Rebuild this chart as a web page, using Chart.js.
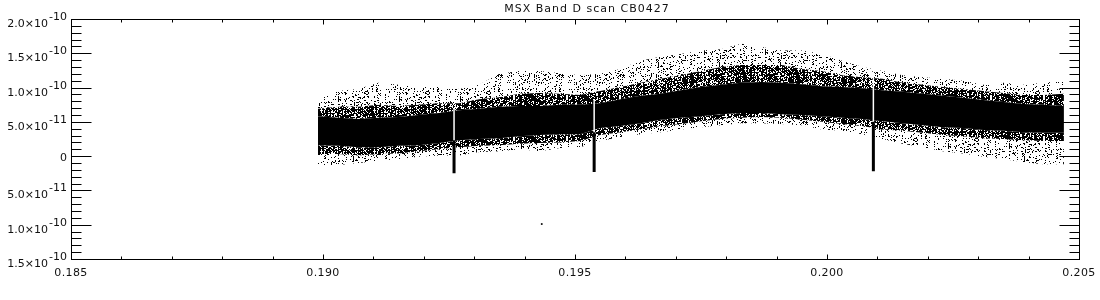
<!DOCTYPE html>
<html lang="en">
<head>
<meta charset="UTF-8">
<title>MSX Band D scan CB0427</title>
<script src="https://cdn.jsdelivr.net/npm/chart.js@4/dist/chart.umd.min.js"></script>
<style>
    html, body { margin: 0; padding: 0; background: #fff; }
    #wrap { position: relative; width: 1100px; height: 300px; }
</style>
</head>
<body>
<div id="wrap"><canvas id="scan"></canvas></div>
<script>
const UNIT = 1e-11;

// sample positions along the scan
const xs = [0.1899, 0.1903, 0.1907, 0.1911, 0.1915, 0.1919, 0.1923, 0.1927, 0.1931, 0.1935,
            0.1939, 0.1943, 0.1947, 0.1951, 0.1955, 0.1959, 0.1963, 0.1967, 0.1971, 0.1975,
            0.1979, 0.1983, 0.1987, 0.1991, 0.1995, 0.1999, 0.2003, 0.2007, 0.2011, 0.2015,
            0.2019, 0.2023, 0.2027, 0.2031, 0.2035, 0.2039, 0.2043, 0.2047];

// envelope of the scattered points: sparse outer edge, dense halo, solid core
const outerTop = [8.3, 9.5, 9.8, 10.7, 10.4, 10.1, 10.1, 9.8, 10.4, 12.0,
                  12.4, 12.4, 12.1, 11.8, 12.0, 12.7, 13.9, 14.5, 14.9, 15.4,
                  15.6, 16.4, 15.9, 15.4, 15.4, 14.9, 13.9, 13.0, 12.4, 11.8,
                  11.5, 11.3, 11.0, 10.4, 10.7, 10.4, 10.7, 11.0];
const haloTop = [6.9, 7.2, 7.2, 7.5, 7.3, 7.5, 7.7, 7.7, 8.3, 8.6,
                 9.1, 9.2, 9.1, 8.9, 9.5, 10.1, 10.7, 11.3, 11.8, 12.4,
                 13.0, 13.3, 13.3, 13.3, 12.7, 12.4, 11.8, 11.5, 11.3, 10.7,
                 10.4, 10.1, 9.8, 9.5, 9.2, 8.9, 8.9, 9.1];
const coreTop = [5.8, 5.6, 5.4, 5.6, 5.7, 6.0, 6.3, 6.7, 6.9, 7.2,
                 7.3, 7.3, 7.5, 7.5, 7.7, 8.3, 8.8, 9.1, 9.6, 10.1,
                 10.4, 10.7, 10.8, 10.7, 10.5, 10.2, 10.1, 9.9, 9.6, 9.4,
                 9.1, 8.8, 8.5, 8.2, 7.9, 7.6, 7.5, 7.3];
const coreBottom = [1.6, 1.5, 1.3, 1.3, 1.5, 1.6, 1.9, 2.3, 2.5, 2.6,
                    2.9, 3.1, 3.2, 3.2, 4.1, 4.4, 4.8, 5.3, 5.6, 5.8,
                    6.1, 6.3, 6.3, 6.1, 6.0, 5.8, 5.6, 5.4, 5.1, 4.8,
                    4.5, 4.2, 4.1, 3.8, 3.7, 3.5, 3.4, 3.4];
const haloBottom = [0.3, 0.3, 0.1, 0.3, 0.4, 0.7, 1.0, 1.3, 1.5, 1.6,
                    1.8, 1.9, 2.0, 2.2, 3.1, 3.5, 3.9, 4.4, 4.7, 5.1,
                    5.4, 5.6, 5.7, 5.6, 5.3, 5.0, 4.7, 4.4, 3.9, 3.7,
                    3.4, 3.1, 2.9, 2.6, 2.5, 2.3, 2.2, 2.2];
const outerBottom = [-1.3, -1.3, -1.0, -0.7, -0.4, -0.1, 0.1, 0.1, 0.6, 0.7,
                     1.0, 0.7, 1.2, 1.3, 2.2, 2.8, 3.2, 3.5, 3.9, 4.2,
                     4.5, 4.8, 4.8, 4.7, 4.5, 3.9, 3.7, 3.2, 2.5, 1.8,
                     1.3, 0.7, 0.4, -0.1, -0.4, -0.9, -1.2, -1.2];

// the three dropouts: a gap in the data with a negative spike under it
const dipX = [0.19260, 0.19538, 0.20092];
const dipTop = [2.3, 3.5, 5.0];
const dipBottom = [-2.5, -2.3, -2.2];
const gapTop = [6.9, 8.3, 12.7];

// lone point far below the band
const strayX = [0.19434];
const strayY = [-9.9];

// axes
const xTicks = [0.185, 0.190, 0.195, 0.200, 0.205];
const xTickLabels = ['0.185', '0.190', '0.195', '0.200', '0.205'];
const yTicks = [2.0e-10, 1.5e-10, 1.0e-10, 5.0e-11, 0, -5.0e-11, -1.0e-10, -1.5e-10];
const yTickMant = ['2.0', '1.5', '1.0', '5.0', '0', '5.0', '1.0', '1.5'];
const yTickExp = ['-10', '-10', '-10', '-11', '', '-11', '-10', '-10'];
const title = 'MSX Band D scan CB0427';

// fixed integer hash, only used to lay out the speckle texture
function hash(a, b, s) {
    let h = Math.imul(a, 374761393) ^ Math.imul(b, 668265263) ^ Math.imul(s, 2246822519);
    h = Math.imul(h ^ (h >>> 13), 1274126177);
    h ^= h >>> 16;
    return (h >>> 0) / 4294967296;
}

// speckle pattern; columns get their own weight so dots line up in streaks
function speckle(w, h, density, streak, seed) {
    const c = document.createElement('canvas');
    c.width = w;
    c.height = h;
    const g = c.getContext('2d');
    g.fillStyle = '#000';
    for (let x = 0; x < w; x++) {
        const col = density * (1 - streak + 2 * streak * hash(x, 7, seed));
        for (let y = 0; y < h; y++) {
            if (hash(x, y, seed + 1) < col) g.fillRect(x, y, 1, 1);
        }
    }
    return g.createPattern(c, 'repeat');
}

const dense = speckle(53, 41, 0.72, 0.3, 3);
const sparse = speckle(61, 47, 0.14, 0.95, 11);

function band(label, vals, fill, bg) {
    return {
        label: label,
        data: xs.map((x, i) => ({ x: x, y: vals[i] * UNIT })),
        showLine: true,
        pointRadius: 0,
        borderWidth: 0,
        borderColor: 'rgba(0,0,0,0)',
        backgroundColor: bg,
        fill: fill,
        order: 10
    };
}

const datasets = [
    band('outer top', outerTop, false, 'rgba(0,0,0,0)'),
    band('halo top', haloTop, '-1', sparse),
    band('core top', coreTop, '-1', dense),
    band('core bottom', coreBottom, '-1', '#000'),
    band('halo bottom', haloBottom, '-1', dense),
    band('outer bottom', outerBottom, '-1', sparse)
];

dipX.forEach((x, i) => {
    datasets.push({
        label: 'spike ' + (i + 1),
        data: [{ x: x, y: dipTop[i] * UNIT }, { x: x, y: dipBottom[i] * UNIT }],
        showLine: true, pointRadius: 0, borderColor: '#000', borderWidth: 3,
        fill: false, order: 2
    });
    datasets.push({
        label: 'gap ' + (i + 1),
        data: [{ x: x, y: gapTop[i] * UNIT }, { x: x, y: dipTop[i] * UNIT }],
        showLine: true, pointRadius: 0, borderColor: '#fff', borderWidth: 1.5,
        fill: false, order: 1
    });
});

datasets.push({
    label: 'stray',
    data: strayX.map((x, i) => ({ x: x, y: strayY[i] * UNIT })),
    pointStyle: 'rect', pointRadius: 1.2, backgroundColor: '#000', borderWidth: 0,
    order: 0
});

const FONT = '11px "DejaVu Sans"';

// IDL style box, ticks and labels
const idlAxes = {
    id: 'idlAxes',
    afterDraw(chart) {
        const ctx = chart.ctx;
        const sx = chart.scales.x, sy = chart.scales.y;
        const L = Math.round(sx.getPixelForValue(0.185)) + 0.5;
        const R = Math.round(sx.getPixelForValue(0.205)) + 0.5;
        const T = Math.round(sy.getPixelForValue(2e-10)) + 0.5;
        const B = Math.round(sy.getPixelForValue(-1.5e-10)) + 0.5;
        ctx.save();
        ctx.strokeStyle = '#000';
        ctx.lineWidth = 1;
        ctx.strokeRect(L, T, R - L, B - T);

        ctx.beginPath();
        xTicks.forEach((v, i) => {
            for (let m = 0; m < 5; m++) {
                if (i === xTicks.length - 1 && m > 0) break;
                const p = Math.round(sx.getPixelForValue(v + m * 0.001)) + 0.5;
                const len = m === 0 ? 5 : 3;
                ctx.moveTo(p, B); ctx.lineTo(p, B - len);
                ctx.moveTo(p, T); ctx.lineTo(p, T + len);
            }
        });
        yTicks.forEach((v, i) => {
            for (let m = 0; m < 5; m++) {
                if (i === yTicks.length - 1 && m > 0) break;
                const p = Math.round(sy.getPixelForValue(v - m * 1e-11)) + 0.5;
                const len = m === 0 ? 20 : 10;
                ctx.moveTo(L, p); ctx.lineTo(L + len, p);
                ctx.moveTo(R, p); ctx.lineTo(R - len, p);
            }
        });
        ctx.stroke();

        ctx.fillStyle = '#111';
        ctx.font = FONT;
        ctx.textBaseline = 'alphabetic';

        // x labels
        ctx.textAlign = 'center';
        ctx.letterSpacing = '0.4px';
        xTicks.forEach((v, i) => {
            ctx.fillText(xTickLabels[i], sx.getPixelForValue(v), 276);
        });

        // y labels with exponents
        ctx.textAlign = 'right';
        ctx.letterSpacing = '0px';
        yTicks.forEach((v, i) => {
            const p = sy.getPixelForValue(v);
            const right = 67;
            if (yTickExp[i] === '') {
                ctx.fillText(yTickMant[i], right, p + 4.5);
                return;
            }
            ctx.fillText(yTickExp[i], right, p + 1);
            const w = ctx.measureText(yTickExp[i]).width;
            ctx.fillText(yTickMant[i] + '\u00d710', right - w - 1, p + 8);
        });

        // title, placed by hand because of the letter spacing
        const spacing = 1;
        ctx.letterSpacing = '0px';
        const tw = ctx.measureText(title).width + spacing * (title.length - 1);
        ctx.letterSpacing = spacing + 'px';
        ctx.textAlign = 'left';
        ctx.fillText(title, (L + R) / 2 - tw / 2 + 11, 12);
        ctx.restore();
    }
};

new Chart(document.getElementById('scan'), {
    type: 'scatter',
    data: { datasets: datasets },
    options: {
        responsive: true,
        maintainAspectRatio: false,
        animation: false,
        layout: { padding: { left: 71, right: 21, top: 19, bottom: 41 } },
        plugins: {
            legend: { display: false },
            tooltip: { enabled: false },
            title: { display: false }
        },
        scales: {
            x: { type: 'linear', min: 0.185, max: 0.205, display: false },
            y: { type: 'linear', min: -1.5e-10, max: 2.0e-10, display: false }
        }
    },
    plugins: [idlAxes]
});
</script>
</body>
</html>
